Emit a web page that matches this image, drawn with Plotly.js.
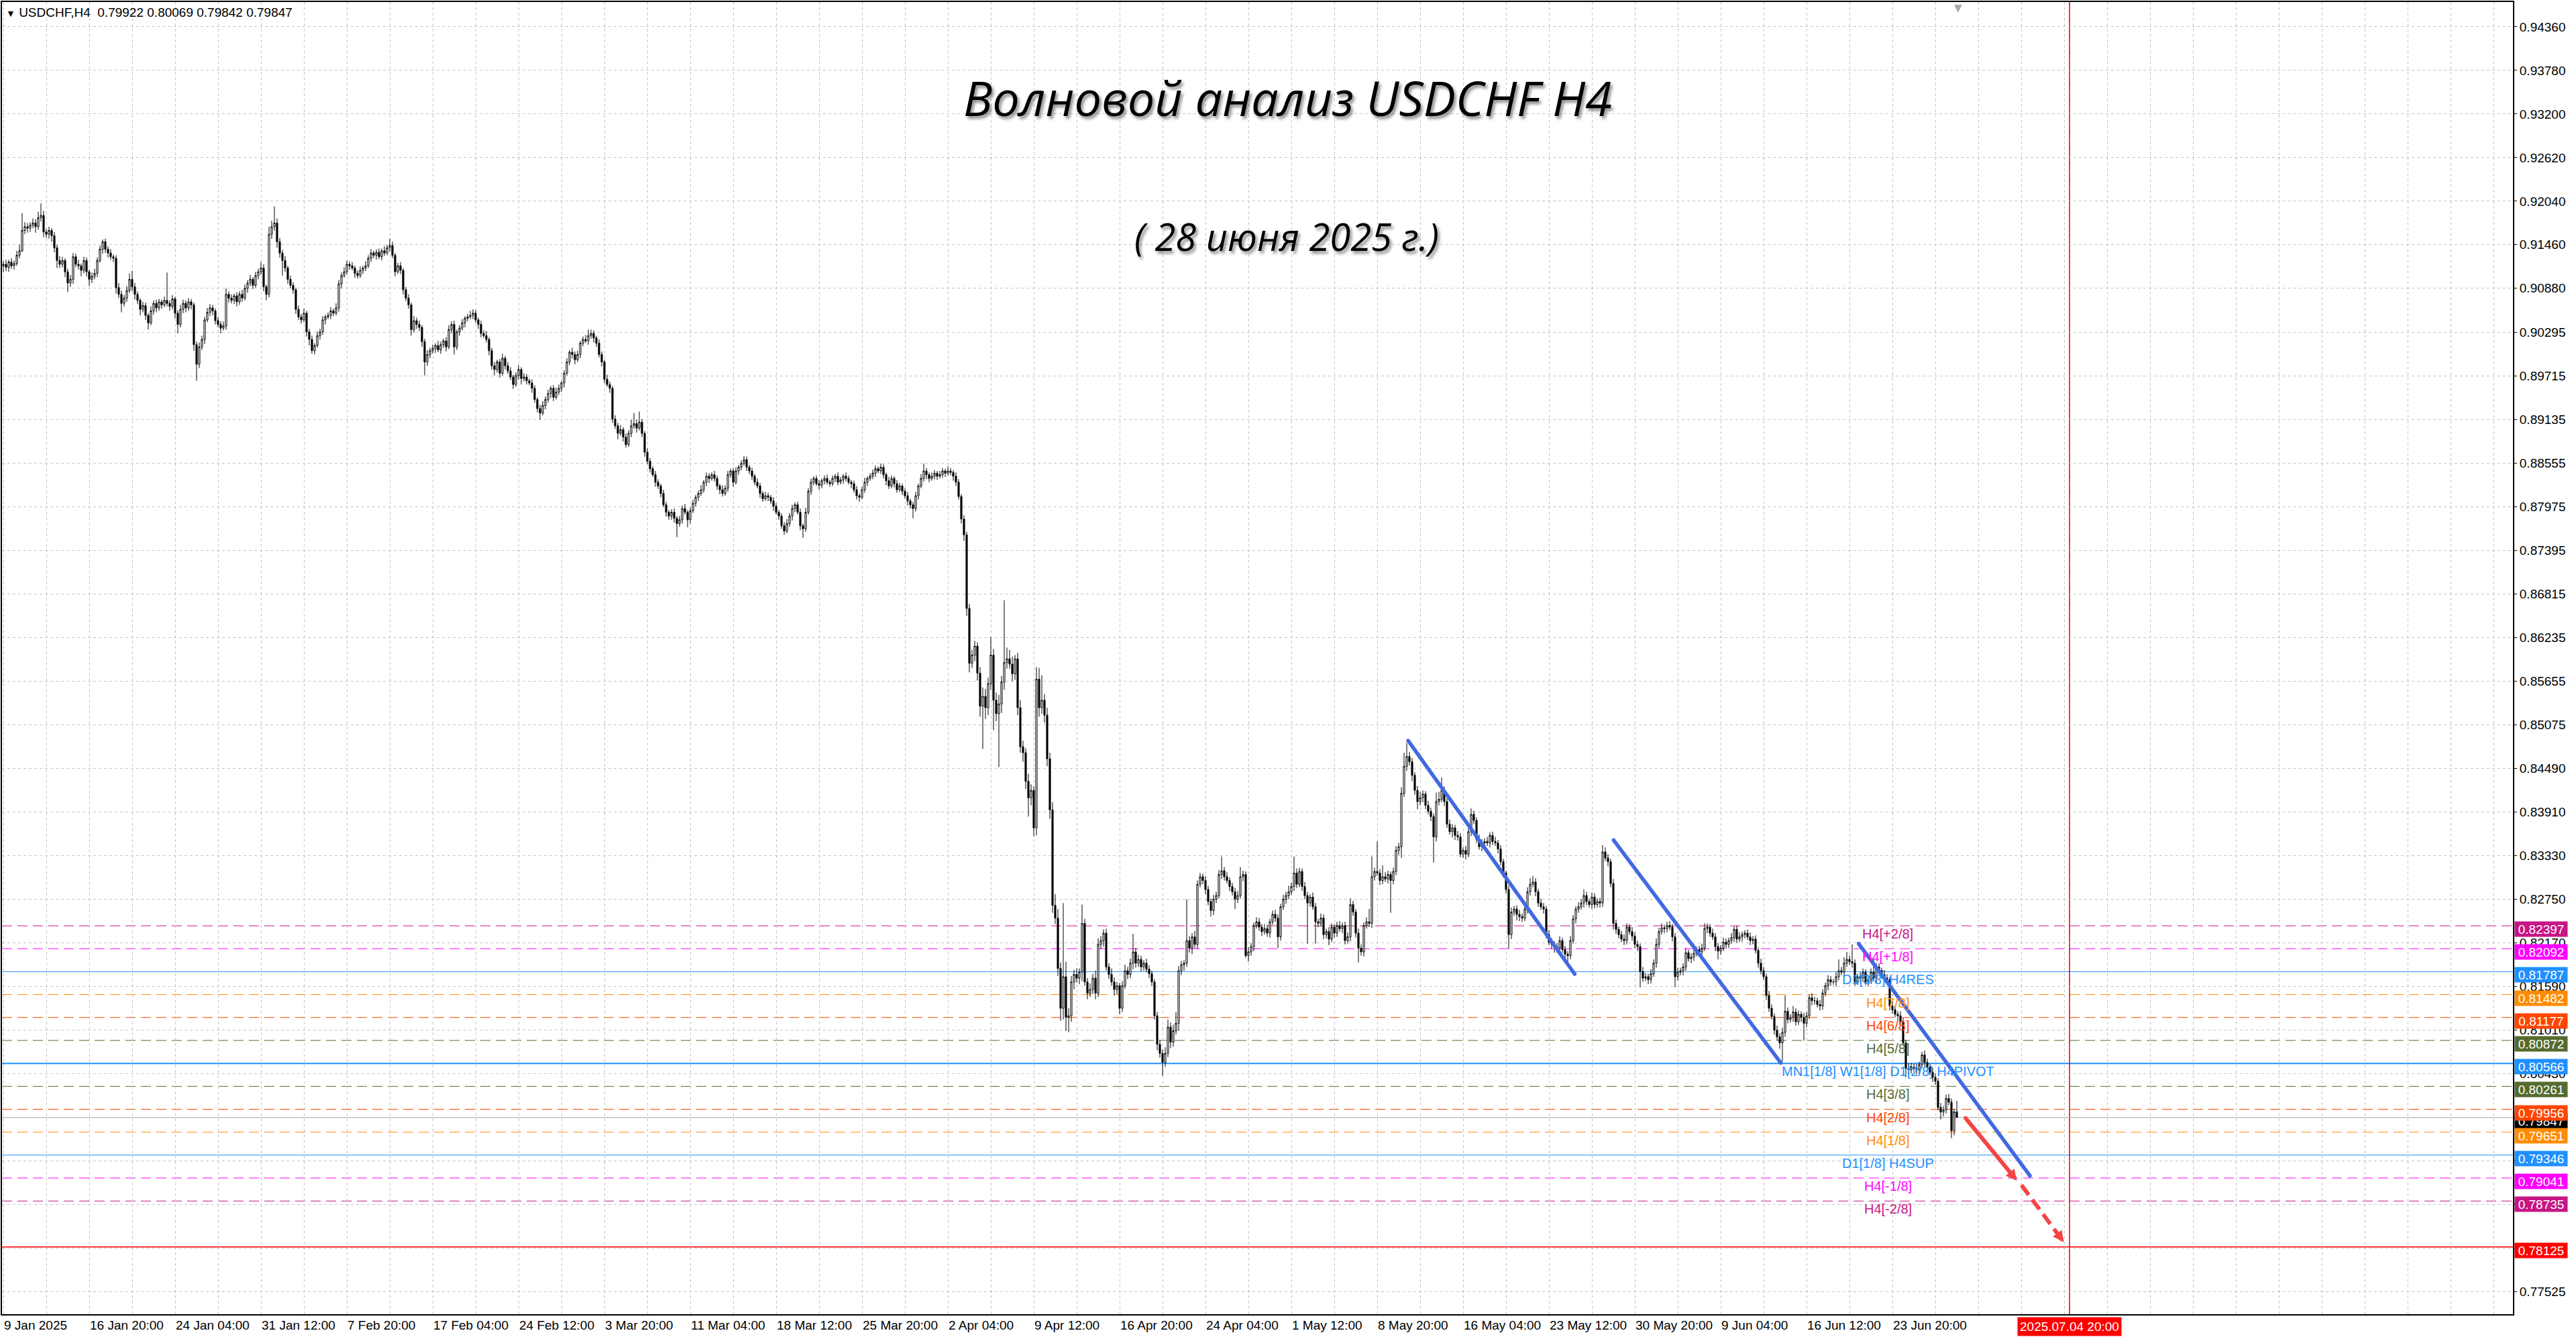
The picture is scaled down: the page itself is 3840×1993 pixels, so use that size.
<!DOCTYPE html>
<html>
<head>
<meta charset="utf-8">
<script src="https://cdn.plot.ly/plotly-3.0.1.min.js"></script>
<style>
html,body{margin:0;padding:0;background:#fff;}
#chart{width:3840px;height:1993px;}
</style>
</head>
<body>
<div id="chart"></div>
<script>
// ---------------- DATA (prices in pips x1e-4) ----------------
const symbolName = 'USDCHF,H4';
const firstOpen = 9118;
// H4 closes, first row = 9 Jan 12:00 .. 10 Jan 20:00, then one row per trading week
const closes = [
9120,9116,9123,9118,9121,9132,9138,9165,9170,
9168,9172,9175,9170,9182,9185,9163,9160,9165,9158,9142,9125,9120,9125,9110,9095,9100,9130,9120,9118,9112,9125,9110,9100,9104,9108,9125,9140,9150,9140,
9135,9130,9128,9089,9080,9068,9075,9085,9100,9090,9080,9072,9060,9065,9052,9042,9058,9068,9062,9070,9066,9072,9068,9064,9074,9055,9040,9060,9068,9062,
9070,9066,9013,8987,9010,9020,9046,9056,9062,9058,9045,9040,9035,9038,9080,9075,9072,9078,9070,9080,9075,9088,9095,9100,9092,9105,9110,9115,9090,9080,
9160,9170,9175,9150,9135,9125,9115,9100,9092,9086,9060,9050,9046,9055,9030,9020,9005,9012,9025,9030,9046,9050,9052,9058,9055,9062,9094,9105,9110,9120,
9118,9115,9108,9105,9112,9115,9118,9128,9135,9132,9136,9130,9138,9135,9142,9145,9132,9110,9118,9112,9086,9075,9066,9033,9045,9040,9036,9017,8990,9000,
9005,9008,9012,9006,9013,9018,9010,9033,9040,9010,9030,9035,9042,9048,9050,9052,9055,9046,9040,9028,9025,9020,9005,8985,8980,8990,8975,8995,8985,8978,
8970,8960,8972,8980,8968,8970,8965,8962,8955,8940,8928,8922,8932,8940,8948,8955,8943,8950,8955,8962,8975,8990,9003,9000,8993,9000,9015,9020,9018,9025,
9028,9022,9015,9000,8990,8967,8960,8955,8914,8905,8895,8900,8890,8880,8895,8905,8908,8902,8910,8895,8870,8858,8848,8840,8830,8825,8815,8800,8790,8785,
8790,8782,8775,8780,8795,8790,8780,8792,8802,8810,8815,8820,8830,8838,8835,8840,8835,8825,8820,8815,8822,8840,8845,8830,8845,8850,8855,8860,8850,8845,
8838,8830,8825,8815,8808,8812,8810,8805,8798,8790,8785,8772,8765,8775,8785,8795,8800,8790,8772,8768,8790,8818,8830,8835,8828,8826,8832,8835,8830,8828,
8835,8838,8830,8833,8838,8835,8830,8828,8820,8812,8810,8820,8830,8835,8838,8842,8848,8845,8850,8840,8832,8825,8835,8828,8820,8825,8818,8812,8805,8800,
8795,8812,8825,8835,8845,8840,8835,8838,8842,8838,8840,8845,8842,8845,8843,8838,8830,8811,8781,8760,8662,8589,8600,8612,8576,8532,8545,8530,8562,8600,
8540,8522,8535,8564,8590,8595,8588,8575,8595,8530,8478,8470,8432,8410,8420,8370,8568,8530,8540,8520,8462,8394,8267,8250,8183,8130,8172,8118,8120,8165,
8175,8170,8178,8243,8165,8150,8155,8170,8150,8215,8220,8230,8185,8175,8165,8155,8160,8130,8160,8180,8175,8190,8205,8190,8195,8185,8190,8182,8176,8165,
8120,8082,8070,8058,8070,8105,8085,8100,8110,8180,8188,8190,8220,8210,8225,8215,8295,8305,8300,8288,8272,8260,8275,8280,8308,8313,8305,8300,8292,8285,
8275,8280,8305,8308,8200,8205,8212,8240,8245,8238,8232,8236,8230,8245,8255,8250,8225,8265,8275,8280,8285,8292,8310,8295,8312,8292,8280,8270,8278,8265,
8245,8243,8250,8228,8232,8222,8238,8230,8240,8236,8240,8220,8225,8268,8258,8230,8210,8205,8240,8245,8243,8305,8312,8310,8300,8305,8302,8308,8300,8312,
8340,8345,8416,8452,8465,8458,8440,8420,8405,8410,8415,8400,8392,8385,8358,8405,8408,8420,8405,8375,8365,8370,8360,8358,8335,8340,8335,8365,8388,8380,
8355,8345,8350,8352,8350,8360,8352,8350,8342,8325,8310,8288,8228,8258,8262,8255,8252,8250,8262,8285,8295,8298,8285,8270,8265,8262,8228,8218,8215,8212,
8210,8220,8208,8202,8200,8220,8249,8262,8265,8270,8280,8272,8268,8278,8268,8272,8270,8338,8330,8325,8296,8243,8235,8228,8222,8220,8238,8232,8226,8215,
8212,8179,8170,8172,8168,8176,8190,8215,8232,8237,8236,8240,8238,8225,8172,8178,8180,8185,8204,8196,8198,8203,8208,8205,8210,8236,8238,8230,8225,8212,
8206,8210,8218,8215,8220,8224,8235,8222,8225,8228,8230,8225,8220,8222,8207,8190,8180,8172,8147,8130,8119,8101,8092,8084,8098,8126,8115,8118,8125,8112,
8122,8118,8110,8120,8144,8140,8140,8135,8133,8150,8160,8168,8165,8165,8172,8180,8178,8190,8195,8192,8190,8165,8172,8170,8178,8165,8168,8178,8170,8185,
8180,8175,8170,8168,8133,8128,8122,8120,8112,8084,8050,8048,8052,8050,8048,8055,8068,8058,8052,8045,8038,8033,7998,7992,7995,8010,8005,7967,7992.2,7984.7
];
// upper shadow above the body, pips
const wickUp = [
4,6,3,5,4,6,8,23,6,
5,4,6,5,8,16,6,4,5,3,5,4,6,5,3,4,6,5,4,6,3,5,4,3,5,6,4,5,3,4,
4,5,3,4,6,5,4,6,8,11,5,4,3,5,4,3,6,4,5,4,3,5,37,4,5,3,4,6,5,4,
5,4,3,4,6,5,4,6,5,4,3,5,4,6,8,4,5,3,5,4,6,5,4,6,3,5,4,8,5,3,
10,8,22,6,5,4,6,3,5,4,3,5,4,6,3,4,5,3,6,4,5,3,4,5,3,6,5,4,6,5,
4,5,3,4,5,3,6,4,5,3,4,5,3,6,4,9,5,3,4,5,3,4,5,3,6,4,5,3,4,6,
4,5,3,6,4,3,5,6,4,5,3,4,5,3,4,6,5,4,3,5,4,6,3,4,5,3,4,6,3,5,
5,3,4,6,3,5,4,3,5,4,3,5,6,4,5,3,4,6,5,3,4,5,3,6,4,5,3,4,6,8,
5,4,3,5,4,3,6,4,3,5,4,6,3,5,4,8,14,5,14,4,3,5,4,3,5,4,3,5,4,3,
4,5,3,5,4,6,3,4,5,3,4,6,3,5,4,3,5,4,3,6,4,5,3,4,5,3,4,5,4,3,
4,3,5,4,3,5,4,3,5,4,3,4,5,6,4,5,3,4,5,3,6,4,5,3,4,5,3,4,5,3,
4,3,5,4,3,5,4,3,4,5,3,4,6,3,4,5,4,3,5,4,3,5,4,3,5,4,3,4,5,3,
4,5,3,6,10,4,3,5,4,3,5,4,3,6,4,3,5,4,3,5,4,6,7,7,5,8,12,10,8,24,
8,10,12,8,83,15,12,10,5,8,10,8,6,10,8,5,16,15,33,8,10,8,10,15,12,8,98,20,10,8,
6,8,5,25,6,5,8,6,10,8,6,5,6,5,8,6,5,4,6,8,5,6,24,5,6,5,4,6,5,4,
4,5,6,5,8,10,6,8,15,6,5,4,55,6,5,8,5,5,4,6,5,4,6,5,6,19,5,6,4,5,
5,6,13,5,4,6,5,4,6,5,4,6,5,4,5,6,5,4,6,5,8,5,22,6,5,4,6,5,4,6,
5,4,6,5,4,6,5,4,5,6,4,5,6,8,5,4,6,5,4,6,17,27,5,40,5,15,6,5,4,5,
6,5,8,18,18,6,5,4,6,8,5,4,6,5,4,12,10,17,5,4,6,5,4,6,5,4,6,5,8,5,
4,6,5,4,6,4,5,6,4,5,4,3,5,6,4,5,6,4,5,6,8,8,5,4,6,5,4,6,5,4,
5,6,4,5,4,6,5,4,6,5,8,5,4,6,5,4,5,9,6,5,4,6,5,4,5,6,5,4,6,5,
5,4,6,5,4,6,5,8,5,6,4,5,6,4,5,6,4,5,6,4,5,6,4,5,6,7,5,4,6,5,
5,4,6,5,4,6,4,5,6,4,4,5,6,4,5,4,6,5,4,6,5,4,6,5,6,21,5,4,8,5,
5,4,6,5,4,6,5,4,6,5,4,6,5,4,6,15,5,8,10,5,23,5,4,6,5,4,6,5,18,5,
5,4,6,5,4,6,5,4,6,5,4,6,5,4,6,4,4,6,5,4,6,5,4,6,5,5,6,5,4,14.7
];
// lower shadow below the body, pips
const wickDown = [
8,5,6,4,5,3,4,2,5,
6,5,4,8,4,5,7,5,6,8,6,10,5,4,7,12,5,6,4,5,8,4,6,9,5,4,5,3,6,5,
6,4,5,8,5,12,4,5,3,6,7,5,8,4,6,9,3,5,6,4,5,3,4,6,4,7,12,4,5,6,
4,6,8,22,5,4,6,3,5,6,5,4,7,3,5,6,4,5,6,4,5,3,6,4,5,3,5,4,6,8,
4,6,5,8,6,20,5,6,4,5,6,4,5,3,6,8,4,5,3,5,4,6,3,5,4,3,5,6,3,4,
5,3,6,4,3,5,4,3,5,4,6,3,5,4,3,5,4,6,3,5,6,4,5,8,4,6,5,7,18,5,
5,4,6,3,5,4,6,3,5,10,4,5,3,6,4,3,5,4,6,5,3,4,6,5,8,4,6,3,5,4,
4,6,3,5,8,4,5,3,6,4,5,9,3,5,4,6,5,3,4,5,6,3,4,5,6,3,5,4,3,5,
4,6,5,4,6,5,3,6,5,4,8,3,6,4,3,5,4,6,3,5,6,4,5,3,6,4,5,3,6,5,
5,6,18,4,5,3,10,5,3,4,5,3,4,5,6,3,4,5,6,4,3,5,4,6,3,5,4,3,5,4,
5,4,3,6,4,3,5,4,6,3,5,4,5,3,4,6,5,3,6,12,4,3,5,4,3,6,4,5,3,4,
3,5,4,3,5,4,3,6,4,5,6,3,4,5,3,4,5,3,4,5,6,4,3,5,4,3,5,4,6,5,
13,4,5,3,4,6,5,3,4,5,3,4,5,3,4,6,5,4,6,8,10,12,6,8,10,14,57,15,10,8,
40,10,71,12,10,8,6,10,8,10,8,12,10,25,10,11,10,12,8,10,10,12,10,8,10,17,15,18,20,8,
10,6,8,12,5,8,5,6,8,5,6,8,5,6,5,8,6,8,5,4,6,5,8,6,5,6,5,4,6,5,
5,8,6,18,6,5,8,6,5,10,6,8,5,6,8,5,6,4,5,6,5,8,6,5,4,6,5,4,6,5,
13,5,4,6,3,8,5,6,4,5,6,4,5,6,4,5,15,5,4,6,5,4,6,5,4,6,5,54,5,4,
29,5,4,6,5,8,4,6,5,4,6,5,4,6,5,6,19,5,6,4,5,6,5,4,6,5,4,6,43,5,
5,6,15,5,6,5,8,6,10,5,6,5,4,6,34,6,5,4,6,5,4,8,6,5,4,5,7,4,6,5,
5,4,6,5,4,6,5,4,6,5,6,5,19,6,5,8,6,5,4,6,5,4,6,5,4,6,5,4,6,8,
6,5,4,6,10,5,4,6,5,4,6,5,4,6,5,4,6,5,4,6,5,8,6,5,4,6,5,4,6,5,
6,21,5,4,6,5,4,6,5,4,6,5,4,6,14,5,4,6,5,4,6,5,4,6,5,4,6,5,4,6,
11,5,4,6,5,4,6,5,4,6,5,4,6,5,4,6,5,4,6,5,4,6,5,8,25,6,5,4,6,5,
4,6,23,5,4,6,5,4,6,5,4,6,5,4,6,5,4,6,5,4,6,5,4,6,5,4,6,5,4,6,
4,6,5,4,6,5,4,6,5,4,12,6,5,4,6,5,4,6,5,4,6,5,4,10,6,5,4,10,6,0.5
];

// time-axis labels (one every 32 bars)
const timeLabels = ['9 Jan 2025','16 Jan 20:00','24 Jan 04:00','31 Jan 12:00','7 Feb 20:00','17 Feb 04:00',
  '24 Feb 12:00','3 Mar 20:00','11 Mar 04:00','18 Mar 12:00','25 Mar 20:00','2 Apr 04:00','9 Apr 12:00',
  '16 Apr 20:00','24 Apr 04:00','1 May 12:00','8 May 20:00','16 May 04:00','23 May 12:00','30 May 20:00',
  '9 Jun 04:00','16 Jun 12:00','23 Jun 20:00'];
const barsPerLabel = 32;
const futureMarkBar = 770;
const futureMarkText = '2025.07.04 20:00';

// price-axis grid values and the labels shown for them (labels fully hidden by the level boxes are left blank)
const priceTicks = [0.94360,0.93780,0.93200,0.92620,0.92040,0.91460,0.90880,0.90295,0.89715,0.89135,
  0.88555,0.87975,0.87395,0.86815,0.86235,0.85655,0.85075,0.84490,0.83910,0.83330,0.82750,0.82170,
  0.81590,0.81010,0.80430,0.79850,0.79270,0.78690,0.78105,0.77525];
const priceTickText = ['0.94360','0.93780','0.93200','0.92620','0.92040','0.91460','0.90880','0.90295','0.89715','0.89135',
  '0.88555','0.87975','0.87395','0.86815','0.86235','0.85655','0.85075','0.84490','0.83910','0.83330','0.82750','0.82170',
  '0.81590','0.81010','0.80430','','','','','0.77525'];

// Murrey levels
const levelPrices = [0.82397,0.82092,0.81787,0.81482,0.81177,0.80872,0.80566,0.80261,0.79956,0.79651,0.79346,0.79041,0.78735];
const levelNames  = ['H4[+2/8]','H4[+1/8]','D1[3/8] H4RES','H4[7/8]','H4[6/8]','H4[5/8]',
  'MN1[1/8] W1[1/8] D1[2/8] H4PIVOT','H4[3/8]','H4[2/8]','H4[1/8]','D1[1/8] H4SUP','H4[-1/8]','H4[-2/8]'];
const levelColors = ['#C71585','#FF00FF','#1E90FF','#FF8C00','#FF4500','#556B2F','#1E90FF','#556B2F','#FF4500','#FF8C00','#1E90FF','#FF00FF','#C71585'];
const levelSolid  = [false,false,true,false,false,false,true,false,false,false,true,false,false];
const levelWidth  = [1,1,1,1,1,1,2,1,1,1,1,1,1];
const levelLabelBar = 702.25;
const targetPrice = 0.78125;

// analyst drawings
const trendX0 = [523.5, 600.1, 691.4];
const trendY0 = [0.84862, 0.83537, 0.82161];
const trendX1 = [585.6, 662.4, 755.25];
const trendY1 = [0.81755, 0.80573, 0.79071];
const arrowSolidX = [731.25, 750.4];
const arrowSolidY = [0.79838, 0.79006];
const arrowDashX = [752.1, 767.9];
const arrowDashY = [0.78946, 0.78187];

const titleText = 'Волновой анализ USDCHF H4';
const subtitleText = '( 28 июня 2025 г.)';

// ---------------- BUILD ----------------
const xs=[],O=[],H=[],L=[],C=[];
for(let i=0;i<closes.length;i++){
  const op = i===0 ? firstOpen : closes[i-1];
  const cl = closes[i];
  xs.push(i);
  O.push(op/1e4); C.push(cl/1e4);
  H.push((Math.max(op,cl)+(wickUp[i]||0))/1e4);
  L.push((Math.min(op,cl)-(wickDown[i]||0))/1e4);
}
const last = closes.length-1;

const FONT = 'Liberation Sans, Arial, sans-serif';
const traces = [];
traces.push({
  type:'candlestick', x:xs, open:O, high:H, low:L, close:C,
  increasing:{line:{color:'#000000',width:1}, fillcolor:'#FFFFFF'},
  decreasing:{line:{color:'#000000',width:1}, fillcolor:'#000000'},
  whiskerwidth:0, hoverinfo:'skip', showlegend:false
});
for(let k=0;k<trendX0.length;k++){
  traces.push({type:'scatter', mode:'lines+markers', x:[trendX0[k],trendX1[k]], y:[trendY0[k],trendY1[k]],
    line:{color:'#4169E1',width:5.5}, marker:{color:'#4169E1',size:5.5}, hoverinfo:'skip', showlegend:false});
}
traces.push({type:'scatter', mode:'markers', x:[arrowSolidX[0]], y:[arrowSolidY[0]],
  marker:{color:'#F44545',size:6}, hoverinfo:'skip', showlegend:false});
traces.push({type:'scatter', mode:'lines', x:arrowDashX, y:arrowDashY,
  line:{color:'#F44545',width:6,dash:'18px,9px'}, hoverinfo:'skip', showlegend:false});

const shapes = [];
shapes.push({type:'line', layer:'between', xref:'paper', x0:0, x1:1, yref:'y', y0:C[last], y1:C[last], line:{color:'#C0C0C0',width:1.5}});
for(let k=0;k<levelPrices.length;k++){
  shapes.push({type:'line', layer:'between', xref:'paper', x0:0, x1:1, yref:'y', y0:levelPrices[k], y1:levelPrices[k],
    line:{color:levelColors[k], width:levelWidth[k], dash: levelSolid[k] ? 'solid' : '15px,8px'}});
}
shapes.push({type:'line', layer:'between', xref:'paper', x0:0, x1:1, yref:'y', y0:targetPrice, y1:targetPrice, line:{color:'#FF0000',width:1.5}});
shapes.push({type:'line', layer:'between', xref:'x', x0:futureMarkBar, x1:futureMarkBar, yref:'paper', y0:0, y1:1, line:{color:'#E00000',width:1.5}});

const ann = [];
// header
ann.push({xref:'paper', yref:'paper', x:0, y:1, xanchor:'left', yanchor:'top', xshift:4, yshift:-3, showarrow:false,
  text:'<span style="font-size:14px">▼</span>\u00a0'+symbolName+'\u00a0\u00a0'+O[last].toFixed(5)+' '+H[last].toFixed(5)+' '+L[last].toFixed(5)+' '+C[last].toFixed(5),
  font:{family:FONT,size:19,color:'#000'}});
// chart-shift marker
ann.push({xref:'x', yref:'paper', x:last+0.5, y:1, xanchor:'center', yanchor:'top', yshift:2, showarrow:false,
  text:'▼', font:{family:'DejaVu Sans',size:15,color:'#A8A8A8'}});
// title
ann.push({xref:'paper', yref:'paper', x:0.512, y:0.9274, xanchor:'center', yanchor:'middle', showarrow:false,
  text:titleText, font:{family:'Open Sans, DejaVu Sans, sans-serif', size:72, color:'#000', style:'italic', shadow:'3px 4px 4px rgba(0,0,0,0.45)'}});
ann.push({xref:'paper', yref:'paper', x:0.5115, y:0.8216, xanchor:'center', yanchor:'middle', showarrow:false,
  text:subtitleText, font:{family:'Open Sans, DejaVu Sans, sans-serif', size:56, color:'#000', style:'italic', shadow:'3px 4px 4px rgba(0,0,0,0.45)'}});
// level texts
for(let k=0;k<levelPrices.length;k++){
  ann.push({xref:'x', yref:'y', x:levelLabelBar, y:levelPrices[k], xanchor:'center', yanchor:'top', yshift:1, showarrow:false,
    text:levelNames[k], font:{family:FONT,size:20,color:levelColors[k]}});
}
// time labels
for(let k=0;k<timeLabels.length;k++){
  ann.push({xref:'x', yref:'paper', x:k*barsPerLabel, y:0, xanchor:'left', yanchor:'top', yshift:-4, xshift:-1, showarrow:false,
    text:timeLabels[k], font:{family:FONT,size:19,color:'#000'}});
}
ann.push({xref:'x', yref:'paper', x:futureMarkBar, y:0, xanchor:'center', yanchor:'top', yshift:-4, showarrow:false,
  text:futureMarkText, bgcolor:'#FF0000', borderpad:3, font:{family:FONT,size:19,color:'#FFF'}});
// price boxes on the right axis
function priceBox(p, color){
  ann.push({xref:'paper', yref:'y', x:1, y:p, xanchor:'left', yanchor:'middle', xshift:2, yshift:-5, showarrow:false,
    text:p.toFixed(5), width:74, height:18, borderpad:2, bgcolor:color, align:'center',
    font:{family:FONT,size:19,color:'#FFF'}});
}
priceBox(C[last], '#000000');
for(let k=0;k<levelPrices.length;k++){ if(levelPrices[k]>C[last]) priceBox(levelPrices[k], levelColors[k]); }
for(let k=0;k<levelPrices.length;k++){ if(levelPrices[k]<C[last]) priceBox(levelPrices[k], levelColors[k]); }
priceBox(targetPrice, '#FF0000');
// arrow heads
ann.push({xref:'x', yref:'y', axref:'x', ayref:'y', x:arrowSolidX[1], y:arrowSolidY[1], ax:arrowSolidX[0], ay:arrowSolidY[0],
  showarrow:true, text:'', arrowhead:2, arrowsize:0.55, arrowwidth:6, arrowcolor:'#F44545'});
ann.push({xref:'x', yref:'y', axref:'x', ayref:'y', x:arrowDashX[1], y:arrowDashY[1],
  ax:arrowDashX[1]-(arrowDashX[1]-arrowDashX[0])*0.12, ay:arrowDashY[1]-(arrowDashY[1]-arrowDashY[0])*0.12,
  showarrow:true, text:'', arrowhead:2, arrowsize:0.55, arrowwidth:6, arrowcolor:'#F44545'});

const layout = {
  width:3840, height:1993,
  margin:{l:3, r:94, t:3, b:34, pad:0},
  paper_bgcolor:'#FFFFFF', plot_bgcolor:'#FFFFFF',
  showlegend:false, boxgap:0.25, dragmode:false, hovermode:false,
  xaxis:{range:[-0.5,935.25], tickmode:'linear', tick0:0, dtick:16, showticklabels:false, ticks:'',
    showgrid:true, gridcolor:'#C4C4C4', gridwidth:1, griddash:'4px,4px', zeroline:false,
    showline:true, mirror:true, linecolor:'#000', linewidth:2, rangeslider:{visible:false}, fixedrange:true},
  yaxis:{range:[0.77229,0.94690], side:'right', tickmode:'array', tickvals:priceTicks,
    ticktext:priceTickText, ticks:'outside', ticklen:4, tickcolor:'#000',
    tickfont:{family:FONT,size:19,color:'#000'}, showgrid:true, gridcolor:'#C4C4C4', gridwidth:1, griddash:'4px,4px',
    zeroline:false, showline:true, mirror:true, linecolor:'#000', linewidth:2, fixedrange:true, automargin:false},
  shapes:shapes, annotations:ann
};
Plotly.newPlot('chart', traces, layout, {displayModeBar:false, staticPlot:true});
</script>
</body>
</html>
